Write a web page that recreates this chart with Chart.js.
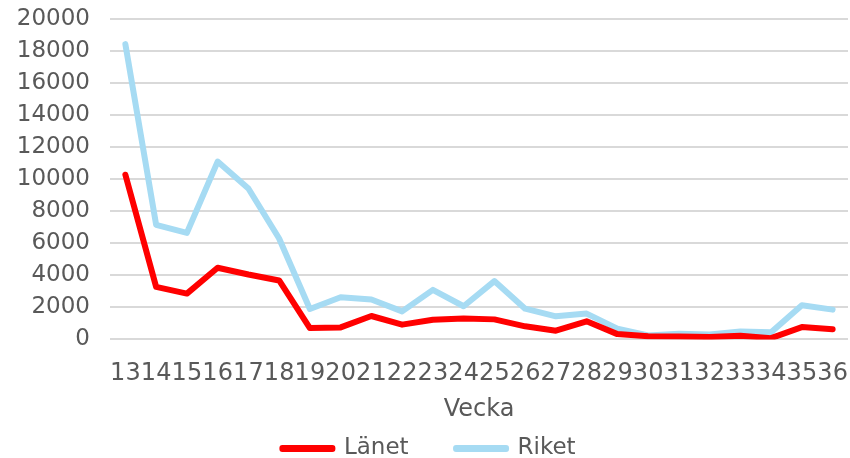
<!DOCTYPE html>
<html>
<head>
<meta charset="utf-8">
<script src="https://cdn.jsdelivr.net/npm/chart.js@4"></script>
<style>
html,body{margin:0;padding:0;background:#fff;}
#wrap{width:850px;height:458px;}
</style>
</head>
<body>
<div id="wrap"><canvas id="c" width="850" height="458"></canvas></div>
<script>
const weeks = ["13","14","15","16","17","18","19","20","21","22","23","24","25","26","27","28","29","30","31","32","33","34","35","36"];
const lanet = [10280,3280,2860,4470,4050,3680,710,750,1460,920,1230,1300,1250,815,545,1130,330,190,180,145,230,80,770,630];
const riket = [18430,7150,6650,11100,9420,6300,1900,2630,2490,1750,3090,2070,3640,1920,1440,1610,670,250,350,310,500,440,2130,1860];
const yTicks = [0,2000,4000,6000,8000,10000,12000,14000,16000,18000,20000];

const txt = '#595959';
const fam = '"DejaVu Sans", Verdana, sans-serif';

new Chart(document.getElementById('c'), {
  type: 'line',
  data: {
    labels: weeks,
    datasets: [
      {label: 'Länet', data: lanet, borderColor: '#FF0000', backgroundColor: '#FF0000', borderWidth: 6, pointRadius: 0, tension: 0, borderCapStyle: 'round', borderJoinStyle: 'round'},
      {label: 'Riket', data: riket, borderColor: '#A6DBF3', backgroundColor: '#A6DBF3', borderWidth: 6, pointRadius: 0, tension: 0, borderCapStyle: 'round', borderJoinStyle: 'round'}
    ]
  },
  options: {
    responsive: false,
    animation: false,
    devicePixelRatio: 1,
    layout: {padding: {top: 19, right: 2, left: 10, bottom: -12}},
    plugins: {
      legend: {
        position: 'bottom',
        labels: {
          color: txt,
          font: {family: fam, size: 23},
          boxWidth: 50,
          boxHeight: 1,
          padding: 13,
          generateLabels: (chart) => {
            const items = Chart.defaults.plugins.legend.labels.generateLabels(chart);
            items.forEach((it, i) => {
              it.lineCap = 'round';
              if (i === 0) it.text = it.text + '\u2003\u2002';
            });
            return items;
          }
        }
      },
      tooltip: {enabled: false}
    },
    scales: {
      x: {
        offset: true,
        grid: {display: false, drawTicks: true, tickLength: 20},
        border: {display: false},
        ticks: {color: txt, font: {family: fam, size: 24}, autoSkip: false, maxRotation: 0, minRotation: 0, padding: 0},
        title: {display: true, text: 'Vecka', color: txt, font: {family: fam, size: 24}, padding: {top: 7, bottom: 0}}
      },
      y: {
        min: 0, max: 20000,
        afterBuildTicks: (axis) => { axis.ticks = yTicks.map(v => ({value: v})); },
        afterFit: (axis) => { axis.width = 100; },
        grid: {color: '#D9D9D9', lineWidth: 2, drawTicks: true, tickLength: 20, tickColor: 'rgba(0,0,0,0)'},
        border: {display: false},
        ticks: {color: txt, font: {family: fam, size: 23}, padding: 0, autoSkip: false, callback: (v) => String(v)}
      }
    }
  }
});
</script>
</body>
</html>
